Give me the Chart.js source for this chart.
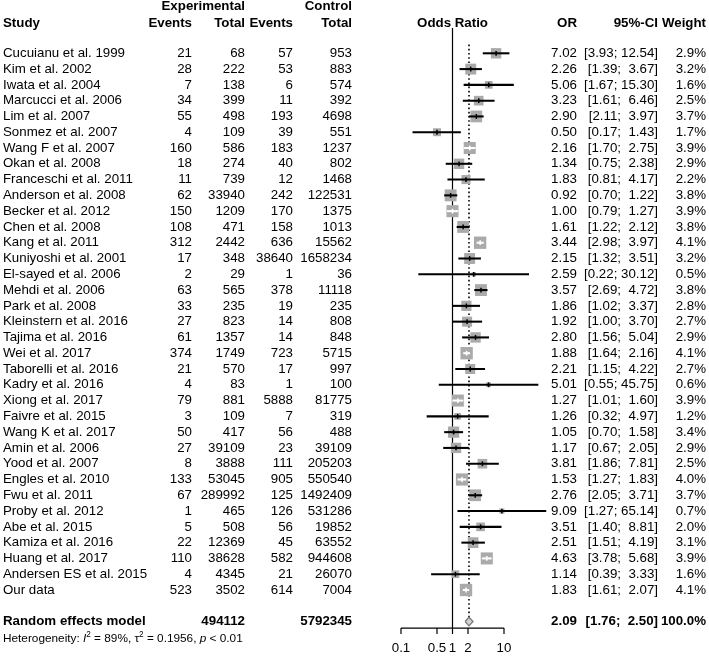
<!DOCTYPE html>
<html>
<head>
<meta charset="utf-8">
<script src="https://cdn.jsdelivr.net/npm/chart.js@4/dist/chart.umd.min.js"></script>
<style>
    html, body { margin: 0; padding: 0; background: #fff; }
    #wrap { width: 709px; height: 660px; position: relative; }
</style>
</head>
<body>
<div id="wrap"><canvas id="forestChart"></canvas></div>
<script>
// Study data
const studies = [
    'Cucuianu et al. 1999', 'Kim et al. 2002', 'Iwata et al. 2004', 'Marcucci et al. 2006',
    'Lim et al. 2007', 'Sonmez et al. 2007', 'Wang F et al. 2007', 'Okan et al. 2008',
    'Franceschi et al. 2011', 'Anderson et al. 2008', 'Becker et al. 2012', 'Chen et al. 2008',
    'Kang et al. 2011', 'Kuniyoshi et al. 2001', 'El-sayed et al. 2006', 'Mehdi et al. 2006',
    'Park et al. 2008', 'Kleinstern et al. 2016', 'Tajima et al. 2016', 'Wei et al. 2017',
    'Taborelli et al. 2016', 'Kadry et al. 2016', 'Xiong et al. 2017', 'Faivre et al. 2015',
    'Wang K et al. 2017', 'Amin et al. 2006', 'Yood et al. 2007', 'Engles et al. 2010',
    'Fwu et al. 2011', 'Proby et al. 2012', 'Abe et al. 2015', 'Kamiza et al. 2016',
    'Huang et al. 2017', 'Andersen ES et al. 2015', 'Our data'
];
const expEvents = [21, 28, 7, 34, 55, 4, 160, 18, 11, 62, 150, 108, 312, 17, 2, 63, 33, 27, 61, 374,
    21, 4, 79, 3, 50, 27, 8, 133, 67, 1, 5, 22, 110, 4, 523];
const expTotal = [68, 222, 138, 399, 498, 109, 586, 274, 739, 33940, 1209, 471, 2442, 348, 29, 565,
    235, 823, 1357, 1749, 570, 83, 881, 109, 417, 39109, 3888, 53045, 289992, 465, 508, 12369,
    38628, 4345, 3502];
const ctrlEvents = [57, 53, 6, 11, 193, 39, 183, 40, 12, 242, 170, 158, 636, 38640, 1, 378, 19, 14,
    14, 723, 17, 1, 5888, 7, 56, 23, 111, 905, 125, 126, 56, 45, 582, 21, 614];
const ctrlTotal = [953, 883, 574, 392, 4698, 551, 1237, 802, 1468, 122531, 1375, 1013, 15562,
    1658234, 36, 11118, 235, 808, 848, 5715, 997, 100, 81775, 319, 488, 39109, 205203, 550540,
    1492409, 531286, 19852, 63552, 944608, 26070, 7004];
const orValues = [7.02, 2.26, 5.06, 3.23, 2.90, 0.50, 2.16, 1.34, 1.83, 0.92, 1.00, 1.61, 3.44, 2.15,
    2.59, 3.57, 1.86, 1.92, 2.80, 1.88, 2.21, 5.01, 1.27, 1.26, 1.05, 1.17, 3.81, 1.53, 2.76, 9.09,
    3.51, 2.51, 4.63, 1.14, 1.83];
const ciLower = [3.93, 1.39, 1.67, 1.61, 2.11, 0.17, 1.70, 0.75, 0.81, 0.70, 0.79, 1.22, 2.98, 1.32,
    0.22, 2.69, 1.02, 1.00, 1.56, 1.64, 1.15, 0.55, 1.01, 0.32, 0.70, 0.67, 1.86, 1.27, 2.05, 1.27,
    1.40, 1.51, 3.78, 0.39, 1.61];
const ciUpper = [12.54, 3.67, 15.30, 6.46, 3.97, 1.43, 2.75, 2.38, 4.17, 1.22, 1.27, 2.12, 3.97, 3.51,
    30.12, 4.72, 3.37, 3.70, 5.04, 2.16, 4.22, 45.75, 1.60, 4.97, 1.58, 2.05, 7.81, 1.83, 3.71, 65.14,
    8.81, 4.19, 5.68, 3.33, 2.07];
const weights = [2.9, 3.2, 1.6, 2.5, 3.7, 1.7, 3.9, 2.9, 2.2, 3.8, 3.9, 3.8, 4.1, 3.2, 0.5, 3.8, 2.8,
    2.7, 2.9, 4.1, 2.7, 0.6, 3.9, 1.2, 3.4, 2.9, 2.5, 4.0, 3.7, 0.7, 2.0, 3.1, 3.9, 1.6, 4.1];

// Random effects summary
const pooledOR = 2.09;
const pooledCI = [1.76, 2.50];
const pooledExpTotal = 494112;
const pooledCtrlTotal = 5792345;

// Axis ticks
const tickValues = [0.1, 0.5, 1, 2, 10];

// Layout (pixels)
const ONE_PX = 452.5;
const DECADE_PX = 51.5;
const FIRST_ROW_PX = 53.3;
const ROW_PX = 15.785;
const W = 709, H = 660;
const SUMMARY_ROW = 36;
const AXIS_ROW = 36.41;
const FONT = '"Liberation Sans", Arial, sans-serif';

document.addEventListener('DOMContentLoaded', function() {
    createForestChart();
});

function squareSide(w) {
    return 6.1 * Math.sqrt(w);
}

// white CI line when it lies completely inside the square
function ciColor(ctx) {
    const i = ctx.dataIndex;
    const xs = ctx.chart.scales.x;
    const c = xs.getPixelForValue(orValues[i]);
    const h = squareSide(weights[i]) / 2;
    const inside = xs.getPixelForValue(ciLower[i]) >= c - h && xs.getPixelForValue(ciUpper[i]) <= c + h;
    return inside ? '#ffffff' : '#000000';
}

function put(ctx, text, x, y, align, bold, size) {
    ctx.font = (bold ? 'bold ' : '') + (size || 13.3) + 'px ' + FONT;
    ctx.textAlign = align;
    ctx.fillText(text, x, y);
}

function formatCI(lo, hi) {
    return '[' + lo.toFixed(2) + '; ' + hi.toFixed(2).padStart(5, ' ') + ']';
}

const textPlugin = {
    id: 'forestText',
    afterDatasetsDraw(chart) {
        const ctx = chart.ctx;
        const xs = chart.scales.x;
        const ys = chart.scales.y;
        ctx.save();
        ctx.fillStyle = '#000';
        ctx.textBaseline = 'middle';

        // headers
        const h1 = ys.getPixelForValue(-2.98);
        const h2 = ys.getPixelForValue(-1.9);
        put(ctx, 'Experimental', 245, h1, 'right', true);
        put(ctx, 'Control', 352, h1, 'right', true);
        put(ctx, 'Study', 3, h2, 'left', true);
        put(ctx, 'Events', 192, h2, 'right', true);
        put(ctx, 'Total', 245, h2, 'right', true);
        put(ctx, 'Events', 293, h2, 'right', true);
        put(ctx, 'Total', 352, h2, 'right', true);
        put(ctx, 'Odds Ratio', xs.getPixelForValue(1), h2, 'center', true);
        put(ctx, 'OR', 577, h2, 'right', true);
        put(ctx, '95%-CI', 658, h2, 'right', true);
        put(ctx, 'Weight', 706, h2, 'right', true);

        // study rows
        studies.forEach((name, i) => {
            const y = ys.getPixelForValue(i);
            put(ctx, name, 3, y, 'left');
            put(ctx, String(expEvents[i]), 192, y, 'right');
            put(ctx, String(expTotal[i]), 245, y, 'right');
            put(ctx, String(ctrlEvents[i]), 293, y, 'right');
            put(ctx, String(ctrlTotal[i]), 352, y, 'right');
            put(ctx, orValues[i].toFixed(2), 577, y, 'right');
            put(ctx, formatCI(ciLower[i], ciUpper[i]), 658, y, 'right');
            put(ctx, weights[i].toFixed(1) + '%', 706, y, 'right');
        });

        // random effects model
        const ys0 = ys.getPixelForValue(SUMMARY_ROW);
        put(ctx, 'Random effects model', 3, ys0, 'left', true);
        put(ctx, String(pooledExpTotal), 245, ys0, 'right', true);
        put(ctx, String(pooledCtrlTotal), 352, ys0, 'right', true);
        put(ctx, pooledOR.toFixed(2), 577, ys0, 'right', true);
        put(ctx, formatCI(pooledCI[0], pooledCI[1]), 658, ys0, 'right', true);
        put(ctx, '100.0%', 706, ys0, 'right', true);

        // heterogeneity line
        const yh = ys.getPixelForValue(37.1);
        const parts = [
            ['Heterogeneity: ', ''], ['I', 'italic '], ['2', 'sup'], [' = 89%, ', ''],
            ['\u03c4', ''], ['2', 'sup'], [' = 0.1956, ', ''], ['p', 'italic '], [' < 0.01', '']
        ];
        let px = 3;
        ctx.textAlign = 'left';
        parts.forEach(([t, style]) => {
            if (style === 'sup') {
                ctx.font = '8.2px ' + FONT;
                ctx.fillText(t, px, yh - 4.5);
            } else {
                ctx.font = style + '11.8px ' + FONT;
                ctx.fillText(t, px, yh);
            }
            px += ctx.measureText(t).width;
        });

        // axis tick labels
        const yt = ys.getPixelForValue(37.7);
        tickValues.forEach(v => put(ctx, String(v), xs.getPixelForValue(v), yt, 'center'));
        ctx.restore();
    }
};

function createForestChart() {
    const ctx = document.getElementById('forestChart').getContext('2d');
    const idx = studies.map((s, i) => i);

    new Chart(ctx, {
        type: 'scatter',
        data: {
            datasets: [
                {
                    // line of no effect
                    type: 'line',
                    data: [{ x: 1, y: -1.6 }, { x: 1, y: AXIS_ROW }],
                    borderColor: '#000',
                    borderWidth: 1.2,
                    pointRadius: 0,
                    showLine: true,
                    order: 10
                },
                {
                    // pooled estimate
                    type: 'line',
                    data: [{ x: pooledOR, y: -0.55 }, { x: pooledOR, y: SUMMARY_ROW - 0.27 }],
                    borderColor: '#000',
                    borderWidth: 1.6,
                    borderDash: [1.6, 2.6],
                    pointRadius: 0,
                    showLine: true,
                    order: 9
                },
                {
                    // study squares
                    data: idx.map(i => ({ x: orValues[i], y: i })),
                    pointStyle: 'rect',
                    pointRadius: c => squareSide(weights[c.dataIndex]) / Math.SQRT2,
                    backgroundColor: '#aaaaaa',
                    borderWidth: 0,
                    order: 5
                },
                {
                    // confidence intervals
                    type: 'bar',
                    indexAxis: 'y',
                    data: idx.map(i => ({ x: [ciLower[i], ciUpper[i]], y: i })),
                    backgroundColor: ciColor,
                    barThickness: 1.4,
                    borderWidth: 0,
                    order: 4
                },
                {
                    // point estimate ticks
                    data: idx.map(i => ({ x: orValues[i], y: i })),
                    pointStyle: 'line',
                    rotation: 90,
                    pointRadius: 2.4,
                    borderWidth: 1.5,
                    borderColor: ciColor,
                    order: 3
                },
                {
                    // summary diamond
                    type: 'line',
                    data: [
                        { x: pooledCI[0], y: SUMMARY_ROW },
                        { x: pooledOR, y: SUMMARY_ROW - 0.27 },
                        { x: pooledCI[1], y: SUMMARY_ROW },
                        { x: pooledOR, y: SUMMARY_ROW + 0.27 },
                        { x: pooledCI[0], y: SUMMARY_ROW }
                    ],
                    borderColor: '#7a7a7a',
                    backgroundColor: '#d4d4d4',
                    borderWidth: 1.3,
                    fill: 'shape',
                    pointRadius: 0,
                    showLine: true,
                    tension: 0,
                    order: 2
                },
                {
                    // x axis line
                    type: 'line',
                    data: [{ x: tickValues[0], y: AXIS_ROW }, { x: tickValues[tickValues.length - 1], y: AXIS_ROW }],
                    borderColor: '#000',
                    borderWidth: 1.2,
                    pointRadius: 0,
                    showLine: true,
                    order: 1
                },
                {
                    // x axis ticks
                    data: tickValues.map(v => ({ x: v, y: AXIS_ROW + 3 / ROW_PX })),
                    pointStyle: 'line',
                    rotation: 90,
                    pointRadius: 3,
                    borderWidth: 1.2,
                    borderColor: '#000',
                    order: 0
                }
            ]
        },
        options: {
            responsive: true,
            maintainAspectRatio: false,
            animation: false,
            events: [],
            layout: { padding: 0, autoPadding: false },
            plugins: {
                legend: { display: false },
                tooltip: { enabled: false }
            },
            scales: {
                x: {
                    type: 'logarithmic',
                    display: false,
                    bounds: 'data',
                    beginAtZero: false,
                    min: Math.pow(10, -ONE_PX / DECADE_PX),
                    max: Math.pow(10, (W - ONE_PX) / DECADE_PX)
                },
                y: {
                    type: 'linear',
                    display: false,
                    reverse: true,
                    offset: false,
                    min: -FIRST_ROW_PX / ROW_PX,
                    max: (H - FIRST_ROW_PX) / ROW_PX
                }
            },
            elements: {
                line: { clip: false }
            }
        },
        plugins: [textPlugin]
    });
}
</script>
</body>
</html>
